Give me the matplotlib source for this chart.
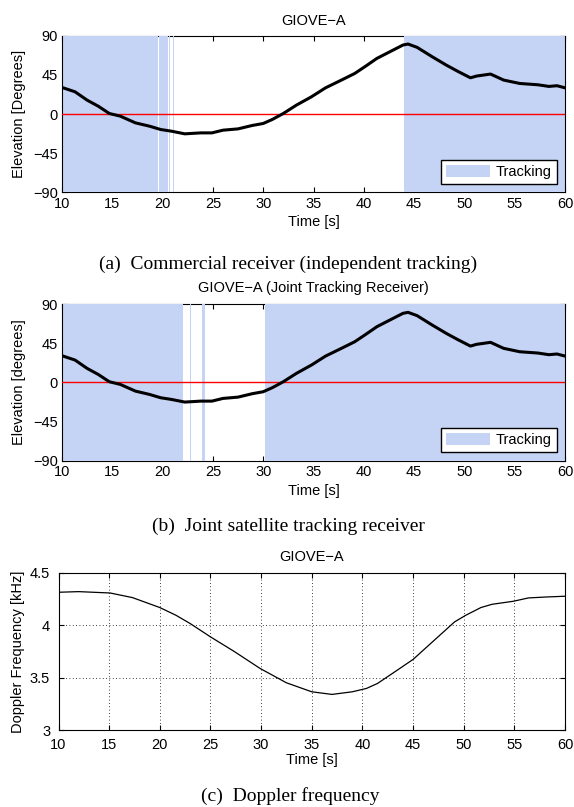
import matplotlib
matplotlib.use("Agg")
import matplotlib.pyplot as plt
from matplotlib.patches import Patch

plt.rcParams['font.family'] = ['Liberation Sans', 'DejaVu Sans']

# Elevation of GIOVE-A over time (degrees)
time_elev = [10, 11.3, 12.5, 13.6, 14.7, 15.8, 17.3, 18.7, 19.8, 20.9, 22.2,
             23.8, 24.9, 26.0, 27.5, 28.9, 30.0, 30.9, 32.0, 33.3, 34.8, 36.2,
             37.9, 39.1, 40.2, 41.3, 42.6, 43.9, 44.4, 45.3, 46.8, 48.2, 49.3,
             50.6, 51.2, 52.6, 53.9, 55.5, 57.3, 58.4, 59.2, 60]
elevation = [30.5, 25.5, 15.9, 9.0, 0.6, -2.5, -10.2, -14.0, -17.8, -19.8, -22.8,
             -21.7, -21.7, -18.6, -17.1, -13.2, -10.9, -6.3, 0.6, 10.2, 19.8, 30.1,
             39.7, 46.6, 55.1, 63.9, 71.6, 79.3, 80.4, 76.6, 65.8, 56.2, 49.3,
             41.6, 43.6, 45.9, 39.0, 35.1, 33.6, 31.7, 32.5, 30.1]

# Tracking intervals (start, end) in seconds
tracking_commercial = [(10, 19.57), (19.67, 20.51), (20.61, 20.77), (21.06, 21.16), (44.03, 60)]
tracking_joint = [(10, 22.03), (22.72, 22.85), (23.92, 24.24), (30.18, 60)]

# Doppler frequency (kHz)
time_dop = [10, 12, 15.1, 17.3, 20.0, 21.6, 23.0, 25.0, 27.4, 29.9, 32.5, 35.0,
            37.0, 39.0, 40.4, 41.5, 43.2, 45.0, 47.1, 49.1, 50.2, 51.7, 52.8,
            54.9, 56.4, 58.2, 60]
doppler = [4.316, 4.322, 4.309, 4.265, 4.170, 4.096, 4.017, 3.890, 3.747, 3.588,
           3.451, 3.365, 3.340, 3.365, 3.397, 3.445, 3.556, 3.674, 3.858, 4.033,
           4.096, 4.170, 4.201, 4.230, 4.262, 4.271, 4.278]

xticks = [10, 15, 20, 25, 30, 35, 40, 45, 50, 55, 60]
elev_ticks = [-90, -45, 0, 45, 90]
dop_ticks = [3, 3.5, 4, 4.5]
dop_ticklabels = ['3', '3.5', '4', '4.5']

track_color = '#c5d3f5'
FS = 10.5
W, H = 574, 807
fig = plt.figure(figsize=(W / 100, H / 100), dpi=100)


def frac_box(x0, x1, ytop, ybot):
    return [x0 / W, 1 - ybot / H, (x1 - x0) / W, (ybot - ytop) / H]


def place_labels(ax, title, x0, x1, ytop, ybot, title_y, xlabel_y, ylabel_x):
    """Position title and axis labels at pixel locations in the figure."""
    w, h = x1 - x0, ybot - ytop
    ax.set_title(title, fontsize=FS, pad=0, y=1 + (ytop - title_y) / h, va='center')
    ax.xaxis.set_label_coords(0.5, -(xlabel_y - ybot) / h)
    ax.xaxis.label.set_va('center')
    ax.yaxis.set_label_coords((ylabel_x - x0) / w, 0.5)
    ax.yaxis.label.set_va('center')


def style_axes(ax, xpad, ypad):
    ax.set_xlim(10, 60)
    ax.set_xticks(xticks)
    ax.tick_params(direction='in', length=3.5, width=0.8, labelsize=FS,
                   top=True, right=True)
    ax.tick_params(axis='x', pad=xpad)
    ax.tick_params(axis='y', pad=ypad)
    for s in ax.spines.values():
        s.set_linewidth(0.8)


def elevation_panel(x0, x1, ytop, ybot, spans, title, ylabel, title_y, xlabel_y):
    ax = fig.add_axes(frac_box(x0, x1, ytop, ybot))
    style_axes(ax, 3.5, 3)
    ax.set_ylim(-90, 90)
    ax.set_yticks(elev_ticks)
    for a, b in spans:
        ax.axvspan(a, b, color=track_color, lw=0, zorder=2.6)
    ax.spines['left'].set_zorder(3)
    ax.spines['right'].set_zorder(3)
    ax.axhline(0, color='red', lw=1, zorder=3.5)
    ax.plot(time_elev, elevation, color='black', lw=2.2, zorder=4)
    ax.set_xlabel('Time [s]', fontsize=FS)
    ax.set_ylabel(ylabel, fontsize=FS)
    place_labels(ax, title, x0, x1, ytop, ybot, title_y, xlabel_y, 19)
    leg = ax.legend(handles=[Patch(facecolor=track_color, edgecolor='none', label='Tracking')],
                    loc='lower right', fontsize=FS, fancybox=False, framealpha=1,
                    edgecolor='black', handlelength=3.0, handleheight=0.86,
                    borderaxespad=0.55, borderpad=0.35, handletextpad=0.4)
    leg.get_frame().set_linewidth(1.0)
    leg.set_zorder(5)
    return ax


elevation_panel(62, 565, 35.7, 192.3, tracking_commercial,
                'GIOVE\u2212A', 'Elevation [Degrees]', 20.7, 222)
elevation_panel(62, 565, 304, 460.5, tracking_joint,
                'GIOVE\u2212A (Joint Tracking Receiver)', 'Elevation [degrees]', 288, 490.5)

ax3 = fig.add_axes(frac_box(58.5, 565, 573, 730))
style_axes(ax3, 5.5, 6)
ax3.set_ylim(3, 4.5)
ax3.set_yticks(dop_ticks)
ax3.set_yticklabels(dop_ticklabels)
ax3.grid(True, color='black', linestyle=(0, (1, 3)), lw=0.6)
ax3.plot(time_dop, doppler, color='black', lw=0.9)
ax3.set_xlabel('Time [s]', fontsize=FS)
ax3.set_ylabel('Doppler Frequency [kHz]', fontsize=FS)
place_labels(ax3, 'GIOVE\u2212A', 58.5, 565, 573, 730, 557, 760, 18)

cap = dict(ha='center', va='center', fontsize=14, family=['Liberation Serif'])
fig.text(288 / W, 1 - 264 / H, '(a)  Commercial receiver (independent tracking)', **cap)
fig.text(288 / W, 1 - 526 / H, '(b)  Joint satellite tracking receiver', **cap)
fig.text(290 / W, 1 - 796 / H, '(c)  Doppler frequency', **cap)

fig.savefig('out.png', dpi=100)
